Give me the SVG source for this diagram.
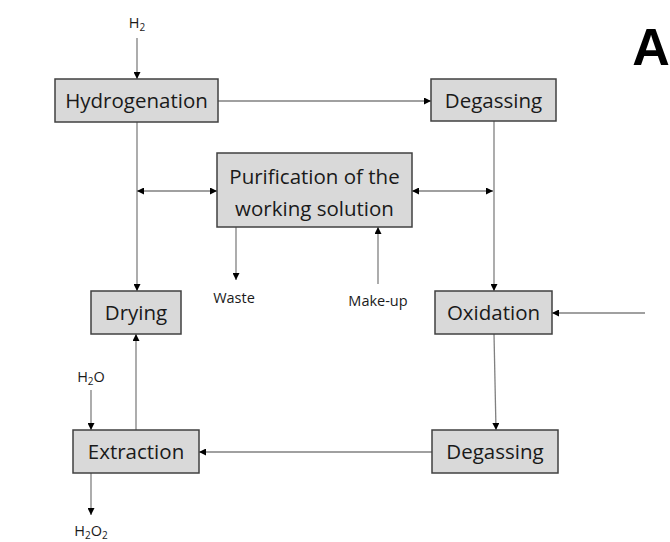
<svg xmlns="http://www.w3.org/2000/svg" width="670" height="542" viewBox="0 0 670 542">
<style>
.box{fill:#d9d9d9;stroke:#404040;stroke-width:1.5}
.lbl{font-family:"Open Sans","Noto Sans",sans-serif;font-size:20.5px;fill:#1a1a1a;text-anchor:middle}
.sm{font-family:"Open Sans","Noto Sans",sans-serif;font-size:14.5px;fill:#1a1a1a;text-anchor:middle}
.ln{stroke:#808080;stroke-width:1.3;fill:none}
</style>
<defs>
<marker id="ah" viewBox="0 0 10 10" refX="10" refY="5" markerWidth="7" markerHeight="7" markerUnits="userSpaceOnUse" orient="auto-start-reverse">
<path d="M0,0 L10,5 L0,10 z" fill="#000"/>
</marker>
</defs>
<rect width="670" height="542" fill="#fff"/>
<g id="connectors">
<line class="ln" x1="137" y1="38" x2="137" y2="79" marker-end="url(#ah)"/>
<line class="ln" x1="218" y1="101" x2="431" y2="101" marker-end="url(#ah)"/>
<line class="ln" x1="137" y1="122" x2="137" y2="291" marker-end="url(#ah)"/>
<line class="ln" x1="137" y1="191" x2="217" y2="191" marker-start="url(#ah)" marker-end="url(#ah)"/>
<line class="ln" x1="412" y1="191" x2="493" y2="191" marker-start="url(#ah)" marker-end="url(#ah)"/>
<line class="ln" x1="494" y1="121" x2="494" y2="291" marker-end="url(#ah)"/>
<line class="ln" x1="236" y1="227" x2="236" y2="280" marker-end="url(#ah)"/>
<line class="ln" x1="378" y1="284" x2="378" y2="227" marker-end="url(#ah)"/>
<line class="ln" x1="645" y1="313" x2="552" y2="313" marker-end="url(#ah)"/>
<line class="ln" x1="494" y1="334" x2="496" y2="430" marker-end="url(#ah)"/>
<line class="ln" x1="432" y1="452" x2="199" y2="452" marker-end="url(#ah)"/>
<line class="ln" x1="136" y1="430" x2="136" y2="334" marker-end="url(#ah)"/>
<line class="ln" x1="91" y1="390" x2="91" y2="430" marker-end="url(#ah)"/>
<line class="ln" x1="91" y1="473" x2="91" y2="515" marker-end="url(#ah)"/>
</g>
<g id="hydrogenation"><rect class="box" x="55" y="79" width="163" height="43"/><text class="lbl" x="136.5" y="108">Hydrogenation</text></g>
<g id="degassing1"><rect class="box" x="431" y="79" width="125" height="42"/><text class="lbl" x="493.5" y="108">Degassing</text></g>
<g id="purification"><rect class="box" x="217" y="153" width="195" height="74"/><text class="lbl" x="314.5" y="184">Purification of the</text><text class="lbl" x="314.5" y="216">working solution</text></g>
<g id="drying"><rect class="box" x="91" y="291" width="90" height="43"/><text class="lbl" x="136" y="320">Drying</text></g>
<g id="oxidation"><rect class="box" x="435" y="291" width="117" height="43"/><text class="lbl" x="493.5" y="320">Oxidation</text></g>
<g id="extraction"><rect class="box" x="73" y="430" width="126" height="43"/><text class="lbl" x="136" y="459">Extraction</text></g>
<g id="degassing2"><rect class="box" x="432" y="430" width="126" height="43"/><text class="lbl" x="495" y="459">Degassing</text></g>
<g id="labels">
<text class="sm" x="137" y="28">H<tspan font-size="10" dy="3">2</tspan></text>
<text class="sm" x="234" y="303">Waste</text>
<text class="sm" x="378" y="306">Make-up</text>
<text class="sm" x="91" y="382">H<tspan font-size="10" dy="3">2</tspan><tspan dy="-3">O</tspan></text>
<text class="sm" x="91" y="536">H<tspan font-size="10" dy="3">2</tspan><tspan dy="-3">O</tspan><tspan font-size="10" dy="3">2</tspan></text>
<text x="651" y="65" font-family="Liberation Sans,Arial,sans-serif" font-weight="bold" font-size="52" fill="#000" text-anchor="middle">A</text>
</g>
</svg>
